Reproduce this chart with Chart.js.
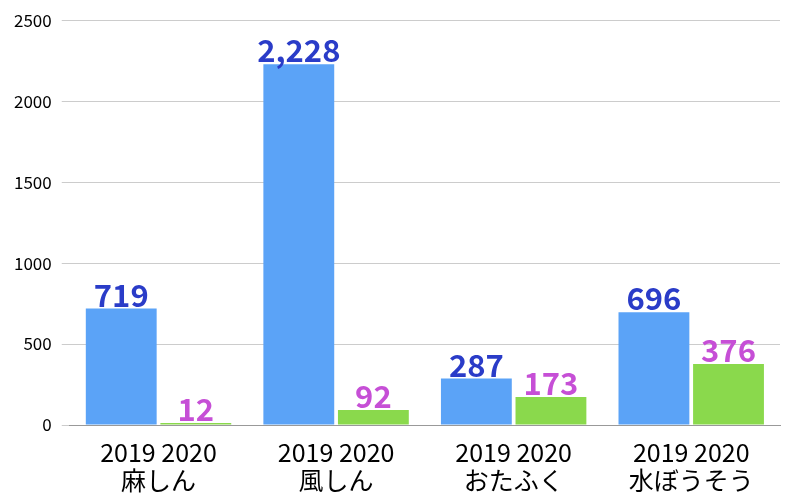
<!DOCTYPE html>
<html>
<head>
<meta charset="utf-8">
<script src="https://cdn.jsdelivr.net/npm/chart.js@4"></script>
<style>
body { margin: 0; background: #fff; }
#wrap { width: 800px; height: 504px; }
</style>
</head>
<body>
<div id="wrap"><canvas id="chart1"></canvas></div>
<script>
var categories = ['麻しん', '風しん', 'おたふく', '水ぼうそう'];
var values2019 = [719, 2228, 287, 696];
var values2020 = [12, 92, 173, 376];
var yTicks = [0, 500, 1000, 1500, 2000, 2500];

var fontFamily = '"Noto Sans CJK JP", "Noto Sans", sans-serif';

var valueLabels = {
	id: 'valueLabels',
	afterDatasetsDraw: function(chart) {
		var ctx = chart.ctx;
		ctx.save();
		ctx.font = 'bold 31px ' + fontFamily;
		ctx.textAlign = 'center';
		ctx.textBaseline = 'alphabetic';
		chart.data.datasets.forEach(function(ds, i) {
			ctx.fillStyle = ds.labelColor;
			chart.getDatasetMeta(i).data.forEach(function(bar, j) {
				ctx.fillText(ds.data[j].toLocaleString('en-US'), bar.x, bar.y - 2);
			});
		});
		ctx.restore();
	}
};

new Chart(document.getElementById('chart1'), {
	type: 'bar',
	data: {
		labels: categories.map(function(c) { return ['2019 2020', c]; }),
		datasets: [{
			label: '2019',
			data: values2019,
			backgroundColor: '#5ba3f7',
			labelColor: '#2a3cc8'
		}, {
			label: '2020',
			data: values2020,
			backgroundColor: '#8ad94c',
			labelColor: '#c64fd6'
		}]
	},
	options: {
		responsive: true,
		maintainAspectRatio: false,
		animation: false,
		layout: { padding: { top: 12, right: 20, left: 4, bottom: 4 } },
		plugins: { legend: { display: false }, tooltip: { enabled: false } },
		datasets: { bar: { categoryPercentage: 0.84, barPercentage: 0.95 } },
		scales: {
			x: {
				grid: { display: false },
				border: { color: '#999' },
				ticks: { color: '#000', font: { size: 25, family: fontFamily, lineHeight: 1.1 }, padding: 6, maxRotation: 0 }
			},
			y: {
				min: 0, max: 2500,
				afterBuildTicks: function(axis) { axis.ticks = yTicks.map(function(v) { return { value: v }; }); },
				grid: { color: '#ccc' },
				border: { display: false },
				ticks: { color: '#000', font: { size: 17, family: fontFamily }, padding: 10,
					callback: function(v) { return String(v); } }
			}
		}
	},
	plugins: [valueLabels]
});
</script>
</body>
</html>
